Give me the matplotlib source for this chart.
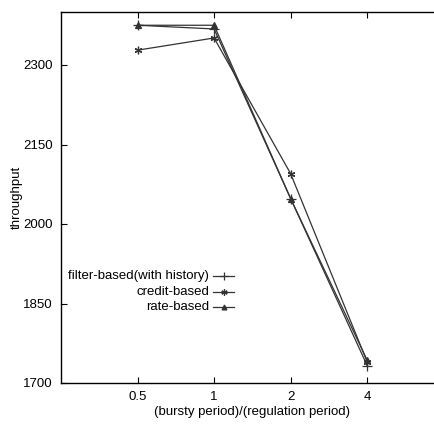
import matplotlib
matplotlib.use('Agg')
import matplotlib.pyplot as plt

# ratio of bursty period to regulation period
ratio = [0.5, 1, 2, 4]
ratio_labels = ['0.5', '1', '2', '4']

# throughput per scheme
filter_based = [2375, 2368, 2048, 1733]
credit_based = [2328, 2351, 2095, 1740]
rate_based = [2375, 2375, 2048, 1743]

series_names = ['filter-based(with history)', 'credit-based', 'rate-based']
series_values = [filter_based, credit_based, rate_based]
series_markers = ['+', (6, 2, 0), '^']
marker_sizes = [7, 5.5, 4.5]

plt.rcParams['font.family'] = ['Liberation Sans', 'DejaVu Sans']
plt.rcParams['font.size'] = 9.5

W, H = 434, 424
fig = plt.figure(figsize=(W / 100, H / 100), dpi=100)
# right border sits outside the picture, as in the original
ax = fig.add_axes([61 / W, 41 / H, (443.7 - 61) / W, 371 / H])

line_color = '#333333'
for vals, mk, ms in zip(series_values, series_markers, marker_sizes):
    ax.plot(ratio, vals, color=line_color, lw=0.9, marker=mk,
            markersize=ms, markeredgewidth=0.9, markerfacecolor=line_color,
            markeredgecolor=line_color, clip_on=False)

ax.set_xscale('log', base=2)
ax.set_xlim(0.25, 8)
ax.set_ylim(1700, 2400)
ax.set_xticks(ratio)
ax.set_xticklabels(ratio_labels)
ax.minorticks_off()
ax.set_yticks([1700, 1850, 2000, 2150, 2300])
ax.tick_params(direction='in', length=4, width=0.8, top=True, right=False,
               colors='black', pad=6)
for s in ax.spines.values():
    s.set_linewidth(1.0)

ax.set_xlabel('(bursty period)/(regulation period)', labelpad=2)
ax.set_ylabel('throughput', labelpad=0)

# key, right-aligned text with sample to its right (gnuplot style)
key_y = [276, 292, 307]
for name, mk, ms, yy in zip(series_names, series_markers, marker_sizes, key_y):
    fy = 1 - yy / H
    fig.text(209 / W, fy, name, ha='right', va='center')
    fig.add_artist(plt.Line2D([213 / W, 234 / W], [fy, fy], color=line_color,
                              lw=0.9, transform=fig.transFigure))
    fig.add_artist(plt.Line2D([223.5 / W], [fy], color=line_color, lw=0,
                              marker=mk, markersize=ms - 1, markeredgewidth=0.9,
                              markerfacecolor=line_color,
                              markeredgecolor=line_color,
                              transform=fig.transFigure))

fig.savefig('out.png', dpi=100)
